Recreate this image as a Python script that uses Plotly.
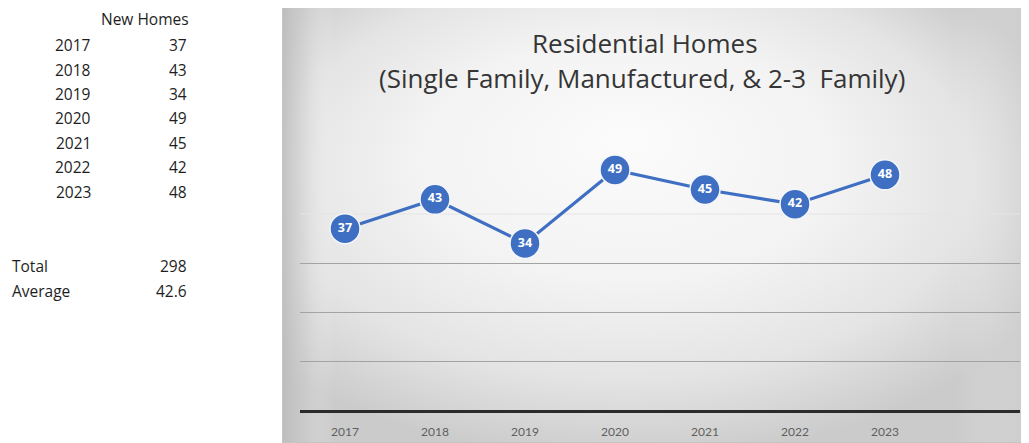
import base64
import plotly.graph_objects as go

years = ["2017", "2018", "2019", "2020", "2021", "2022", "2023"]
new_homes = [37, 43, 34, 49, 45, 42, 48]
total_label = "298"
average_label = "42.6"
title_line1 = "Residential Homes"
title_line2 = "(Single Family, Manufactured, & 2-3  Family)"
categories = years + [" "]

# page body has an 8px margin; figure is sized/positioned to compensate
OFF = 8
W, H = 1029 - OFF, 443 - OFF
FONT = "Open Sans"

def px(x):
    return (x - OFF) / W

def py(y):
    return (H - (y - OFF)) / H

fig = go.Figure()

fig.add_trace(go.Scatter(
    x=years, y=new_homes, mode="lines+markers+text",
    line=dict(color="#3e6fc2", width=3.2),
    marker=dict(size=30, color="#3e6fc2", line=dict(color="#f4f6fa", width=1.5)),
    text=[str(v) for v in new_homes], textposition="middle center",
    textfont=dict(color="white", size=12.5, family="Open Sans", weight="bold"),
    cliponaxis=False, showlegend=False, hoverinfo="skip",
))

# smooth gradient background of the chart frame (SVG image)
fw, fh = 1029 - 282, 443 - 5
svg = f'''<svg xmlns="http://www.w3.org/2000/svg" width="{fw}" height="{fh}" viewBox="0 0 {fw} {fh}">
<defs>
<radialGradient id="g" cx="46%" cy="42%" r="62%" fx="46%" fy="30%">
<stop offset="0%" stop-color="#fbfbfb"/>
<stop offset="45%" stop-color="#f3f3f3"/>
<stop offset="75%" stop-color="#e4e4e4"/>
<stop offset="100%" stop-color="#cbcbcb"/>
</radialGradient>
<linearGradient id="l" x1="0" y1="0" x2="1" y2="0">
<stop offset="0" stop-color="#b8b8b8" stop-opacity="0.8"/>
<stop offset="0.03" stop-color="#c8c8c8" stop-opacity="0.4"/>
<stop offset="0.07" stop-color="#ffffff" stop-opacity="0"/>
<stop offset="0.9" stop-color="#ffffff" stop-opacity="0"/>
<stop offset="1" stop-color="#d0d0d0" stop-opacity="0.35"/>
</linearGradient>
</defs>
<rect width="{fw}" height="{fh}" fill="url(#g)"/>
<rect width="{fw}" height="{fh}" fill="url(#l)"/>
<rect x="0.5" y="0.5" width="{fw-1}" height="{fh-1}" fill="none" stroke="#c4c4c4" stroke-width="1"/>
</svg>'''
src = "data:image/svg+xml;base64," + base64.b64encode(svg.encode()).decode()
fig.add_layout_image(dict(source=src, xref="paper", yref="paper", x=px(282), y=py(5),
                          sizex=px(1029) - px(282), sizey=py(5) - py(443),
                          xanchor="left", yanchor="top", sizing="stretch", layer="below"))

# faint gridline at 40
fig.add_shape(type="line", xref="x domain", yref="y", x0=0, x1=1, y0=40, y1=40,
              line=dict(color="#e4e4e4", width=1), layer="below")

TXT = "#1e1e1e"
annotations = [
    dict(text=title_line1, x=px(645), y=py(43), xref="paper", yref="paper", showarrow=False,
         font=dict(family=FONT, size=26, color="#353535"), xanchor="center", yanchor="middle"),
    dict(text=title_line2, x=px(642), y=py(78), xref="paper", yref="paper", showarrow=False,
         font=dict(family=FONT, size=26, color="#353535"), xanchor="center", yanchor="middle"),
    dict(text="New Homes", x=px(145), y=py(19), xref="paper", yref="paper", showarrow=False,
         font=dict(family=FONT, size=15.5, color=TXT), xanchor="center", yanchor="middle"),
]
row_y = [45, 70, 94, 118, 143, 167, 192]
for yr, v, ry in zip(years, new_homes, row_y):
    annotations.append(dict(text=yr, x=px(93), y=py(ry), xref="paper", yref="paper", showarrow=False,
                            font=dict(family=FONT, size=15.5, color=TXT), xanchor="right", yanchor="middle"))
    annotations.append(dict(text=str(v), x=px(189), y=py(ry), xref="paper", yref="paper", showarrow=False,
                            font=dict(family=FONT, size=15.5, color=TXT), xanchor="right", yanchor="middle"))
for lbl, val, ry in [("Total", total_label, 266), ("Average", average_label, 291)]:
    annotations.append(dict(text=lbl, x=px(10), y=py(ry), xref="paper", yref="paper", showarrow=False,
                            font=dict(family=FONT, size=15.5, color=TXT), xanchor="left", yanchor="middle"))
    annotations.append(dict(text=val, x=px(189), y=py(ry), xref="paper", yref="paper", showarrow=False,
                            font=dict(family=FONT, size=15.5, color=TXT), xanchor="right", yanchor="middle"))

fig.update_layout(
    width=W, height=H, margin=dict(l=0, r=0, t=0, b=0),
    paper_bgcolor="white", plot_bgcolor="rgba(0,0,0,0)",
    annotations=annotations,
    xaxis=dict(domain=[px(300), px(1020)], type="category", categoryorder="array",
               categoryarray=categories, range=[-0.5, 7.5], showgrid=False,
               showline=True, linecolor="#2b2b2b", linewidth=2.5, ticks="",
               ticklabelstandoff=9,
               tickfont=dict(family="Lato", size=12, color="#606060")),
    yaxis=dict(domain=[py(410), py(116)], range=[0, 60], tickvals=[10, 20, 30],
               showticklabels=False, showgrid=True, gridcolor="#a3a3a3", gridwidth=1,
               zeroline=False, showline=False),
)

fig.write_html("out.html")
